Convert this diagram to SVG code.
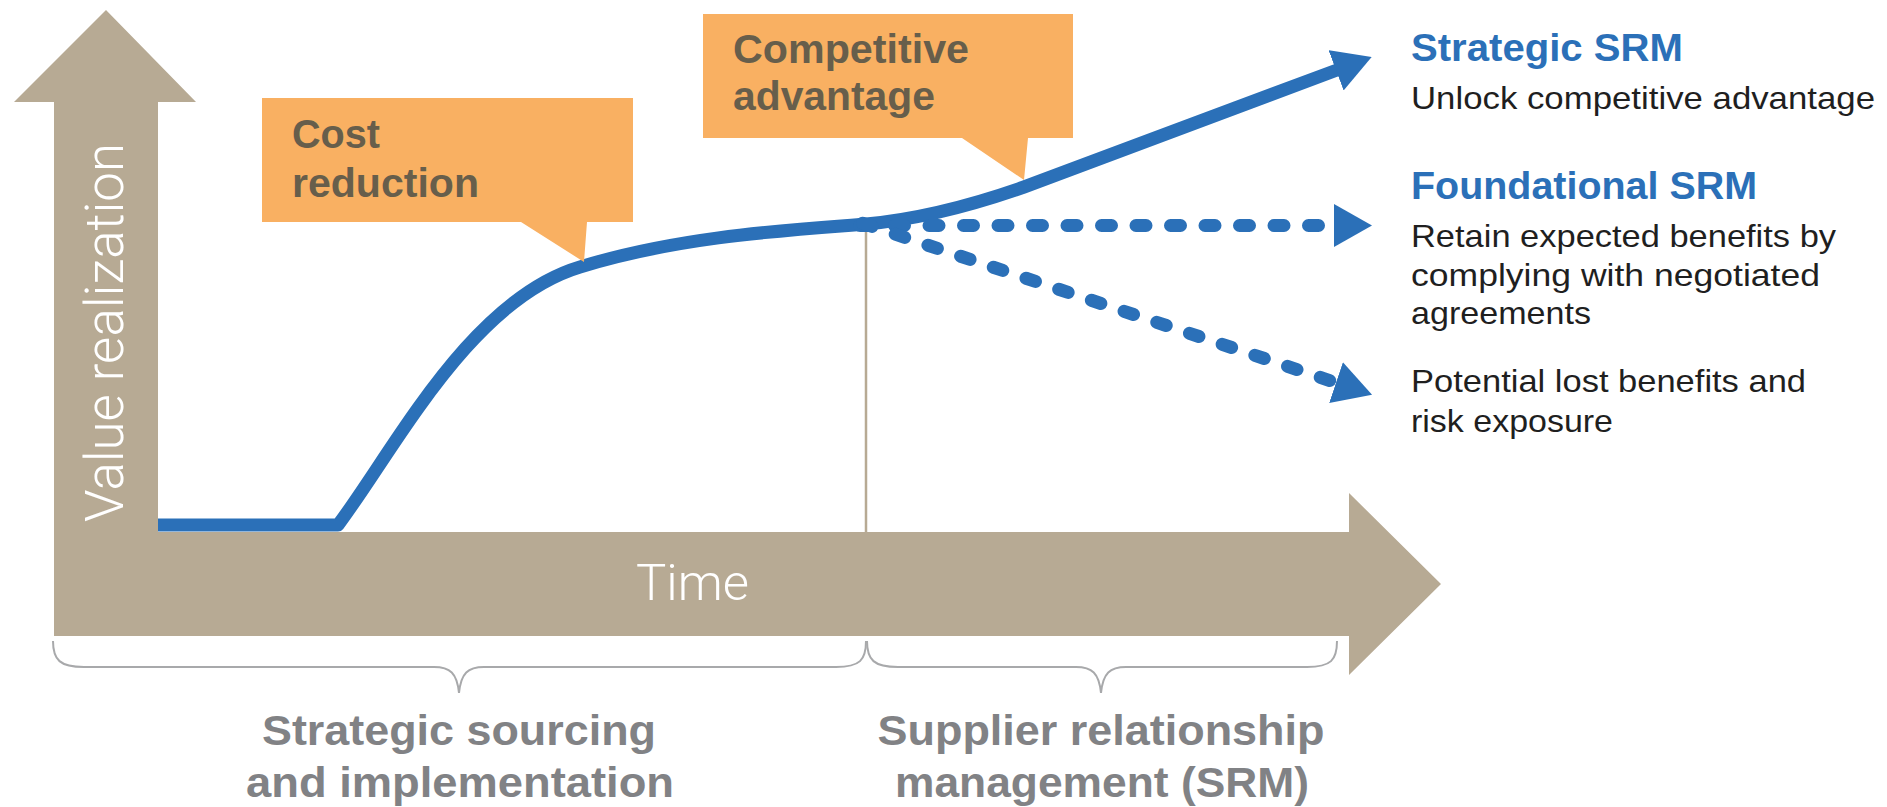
<svg xmlns="http://www.w3.org/2000/svg" width="1887" height="807" viewBox="0 0 1887 807">
  <defs>
    <style>
      .axis { fill: #b7aa94; }
      .axis-label { fill: #ffffff; font-family: Roboto, Lato, "Liberation Sans", sans-serif; font-weight: 300; }
      .callout { fill: #f9b062; }
      .callout-text { fill: #675e4b; font-family: "Liberation Sans", Arial, sans-serif; font-weight: bold; font-size: 41px; }
      .phase-text { fill: #818285; font-family: "Liberation Sans", Arial, sans-serif; font-weight: bold; font-size: 42px; text-anchor: middle; }
      .brace { fill: none; stroke: #a8a9ab; stroke-width: 2; }
      .title { fill: #2b70b8; font-family: "Liberation Sans", Arial, sans-serif; font-weight: bold; font-size: 39px; }
      .desc { fill: #1f1f1f; font-family: "Liberation Sans", Arial, sans-serif; font-size: 32px; }
      .value { fill: none; stroke: #2b70b8; stroke-width: 13; }
      .dashed { stroke-dasharray: 10 24.5; stroke-linecap: round; }
    </style>
    <marker id="head" viewBox="0 0 38 43" refX="1" refY="21.5" markerWidth="38" markerHeight="43" markerUnits="userSpaceOnUse" orient="auto">
      <path d="M0,0 L38,21.5 L0,43 Z" fill="#2b70b8"/>
    </marker>
  </defs>

  <!-- Value / time axes -->
  <g id="axes">
    <path class="axis" d="M106,10 L196,102 L158,102 L158,532 L1349,532 L1349,493 L1441,584 L1349,675 L1349,636 L54,636 L54,102 L14,102 Z"/>
    <line x1="866" y1="224" x2="866" y2="532" stroke="#b7aa94" stroke-width="2.5"/>
    <text class="axis-label" transform="translate(123,522) rotate(-90)" font-size="53" textLength="379" lengthAdjust="spacingAndGlyphs">Value realization</text>
    <text class="axis-label" x="636" y="600" font-size="50" textLength="113" lengthAdjust="spacingAndGlyphs">Time</text>
  </g>

  <!-- Value curve and outcome branches -->
  <g id="connectors">
    <path class="value" d="M158,525 L338,525 C395,449 470,300 580,267 C680,236 790,230 866,224 C920,219 970,206 1024,187 L1337,70" stroke-linejoin="round" marker-end="url(#head)"/>
    <path class="value dashed" d="M860,225.5 L1335,225.5" marker-end="url(#head)"/>
    <path class="value dashed" d="M862.5,223.2 L1337,383" marker-end="url(#head)"/>
  </g>

  <!-- Callouts -->
  <g id="cost-reduction">
    <path class="callout" d="M262,98 L633,98 L633,222 L587,222 L584,262 L521,222 L262,222 Z"/>
    <text class="callout-text" x="292" y="148" textLength="88" lengthAdjust="spacingAndGlyphs">Cost</text>
    <text class="callout-text" x="292" y="197" textLength="187" lengthAdjust="spacingAndGlyphs">reduction</text>
  </g>
  <g id="competitive-advantage">
    <path class="callout" d="M703,14 L1073,14 L1073,138 L1028,138 L1024,180 L962,138 L703,138 Z"/>
    <text class="callout-text" x="733" y="63" textLength="236" lengthAdjust="spacingAndGlyphs">Competitive</text>
    <text class="callout-text" x="733" y="110" textLength="202" lengthAdjust="spacingAndGlyphs">advantage</text>
  </g>

  <!-- Outcome descriptions -->
  <g id="strategic-srm">
    <text class="title" x="1411" y="61" textLength="272" lengthAdjust="spacingAndGlyphs">Strategic SRM</text>
    <text class="desc" x="1411" y="109" textLength="464" lengthAdjust="spacingAndGlyphs">Unlock competitive advantage</text>
  </g>
  <g id="foundational-srm">
    <text class="title" x="1411" y="199" textLength="346" lengthAdjust="spacingAndGlyphs">Foundational SRM</text>
    <text class="desc" x="1411" y="247" textLength="425" lengthAdjust="spacingAndGlyphs">Retain expected benefits by</text>
    <text class="desc" x="1411" y="286" textLength="409" lengthAdjust="spacingAndGlyphs">complying with negotiated</text>
    <text class="desc" x="1411" y="324" textLength="180" lengthAdjust="spacingAndGlyphs">agreements</text>
  </g>
  <g id="lost-benefits">
    <text class="desc" x="1411" y="392" textLength="395" lengthAdjust="spacingAndGlyphs">Potential lost benefits and</text>
    <text class="desc" x="1411" y="432" textLength="202" lengthAdjust="spacingAndGlyphs">risk exposure</text>
  </g>

  <!-- Phases along the time axis -->
  <g id="phase-sourcing">
    <path class="brace" d="M53,641 C53,660 60,667 84,667 L434,667 C450,667 457,673 459,693 C461,673 468,667 484,667 L836,667 C860,667 866,660 866,641"/>
    <text class="phase-text" x="459" y="745" textLength="394" lengthAdjust="spacingAndGlyphs">Strategic sourcing</text>
    <text class="phase-text" x="460" y="797" textLength="428" lengthAdjust="spacingAndGlyphs">and implementation</text>
  </g>
  <g id="phase-srm">
    <path class="brace" d="M867,641 C867,660 874,667 898,667 L1076,667 C1092,667 1099,673 1101,693 C1103,673 1110,667 1126,667 L1307,667 C1331,667 1337,660 1337,641"/>
    <text class="phase-text" x="1101" y="745" textLength="447" lengthAdjust="spacingAndGlyphs">Supplier relationship</text>
    <text class="phase-text" x="1102" y="797" textLength="414" lengthAdjust="spacingAndGlyphs">management (SRM)</text>
  </g>
</svg>
